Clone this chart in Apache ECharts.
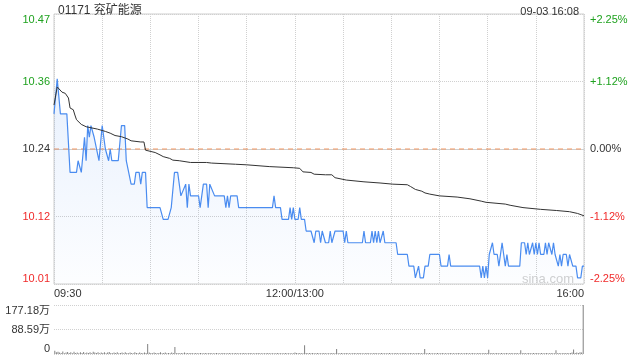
<!DOCTYPE html>
<html>
<head>
<meta charset="utf-8">
<script src="https://cdn.jsdelivr.net/npm/echarts@6/dist/echarts.min.js"></script>
<style>
html,body{margin:0;padding:0;background:#fff;}
#chart{width:640px;height:360px;}
</style>
</head>
<body>
<div id="chart"></div>
<script>
// ---- data ----
const titleText = '01171 兖矿能源';
const dateText = '09-03 16:08';
const prevClose = 10.24;
const sessionEnd = 330;
const xTickLabels = { 0: '09:30', 150: '12:00/13:00', 330: '16:00' };
const priceLabels = ['10.01', '10.12', '10.24', '10.36', '10.47'];
const pctLabels = ['-2.25%', '-1.12%', '0.00%', '+1.12%', '+2.25%'];
const volLabels = ['0', '88.59万', '177.18万'];

// minutes since 09:30 (lunch break removed) and price
const priceMin = [0,2,4,8,10,14,15,17,19,20,21,22,23,25,28,30,32,34,35,36,40,42,44,45,46,48,50,51,53,54,55,57,58,66,68,71,73,75,77,79,80,82,83,84,85,90,91,92,93,95,96,97,98,100,106,107,108,109,110,114,115,136,137,138,141,142,146,147,148,149,150,152,153,154,156,157,160,162,163,165,166,167,168,169,171,172,173,174,175,180,181,182,183,192,193,194,197,198,199,200,201,202,203,204,205,206,213,214,220,221,224,225,226,227,228,230,231,233,234,240,241,245,246,247,265,266,267,268,269,270,271,272,273,274,276,277,279,280,281,282,283,290,291,293,294,295,296,297,298,299,300,301,302,303,305,306,307,308,309,310,311,312,313,314,315,316,317,319,320,321,322,323,325,326,328,329,330];
const priceVal = [10.30,10.36,10.30,10.30,10.20,10.20,10.22,10.20,10.26,10.22,10.28,10.26,10.28,10.26,10.22,10.28,10.24,10.22,10.24,10.22,10.22,10.28,10.28,10.22,10.22,10.18,10.18,10.20,10.20,10.18,10.20,10.20,10.14,10.14,10.12,10.12,10.14,10.20,10.20,10.16,10.16,10.18,10.14,10.18,10.16,10.16,10.14,10.14,10.18,10.18,10.14,10.18,10.18,10.16,10.16,10.14,10.16,10.14,10.16,10.16,10.14,10.14,10.16,10.14,10.14,10.12,10.12,10.14,10.12,10.14,10.12,10.12,10.14,10.12,10.12,10.10,10.10,10.08,10.10,10.10,10.08,10.10,10.10,10.08,10.08,10.10,10.08,10.08,10.10,10.10,10.08,10.10,10.08,10.08,10.10,10.08,10.08,10.10,10.08,10.10,10.08,10.10,10.08,10.08,10.10,10.08,10.08,10.06,10.06,10.04,10.04,10.02,10.02,10.04,10.02,10.02,10.04,10.04,10.06,10.06,10.04,10.04,10.06,10.04,10.04,10.02,10.04,10.02,10.04,10.02,10.06,10.06,10.08,10.06,10.06,10.04,10.08,10.06,10.04,10.06,10.04,10.04,10.08,10.08,10.06,10.08,10.06,10.06,10.08,10.06,10.08,10.06,10.08,10.06,10.06,10.08,10.06,10.08,10.08,10.06,10.08,10.06,10.06,10.04,10.06,10.04,10.06,10.06,10.04,10.06,10.06,10.04,10.04,10.02,10.02,10.04,10.04];

// average price line
const avgMin = [0,2,5,7,9,10,12,13,14,17,20,27,32,35,38,42,46,48,54,56,57,58,63,66,68,72,74,78,85,95,98,113,120,134,149,153,155,160,162,169,173,175,182,193,203,211,220,222,225,229,231,234,240,251,259,266,269,281,284,292,303,313,321,326,330];
const avgVal = [10.315,10.346,10.337,10.335,10.327,10.310,10.307,10.298,10.290,10.282,10.278,10.274,10.270,10.267,10.263,10.261,10.257,10.254,10.252,10.252,10.238,10.235,10.234,10.230,10.227,10.224,10.221,10.220,10.217,10.217,10.216,10.214,10.213,10.210,10.208,10.207,10.201,10.200,10.197,10.196,10.196,10.191,10.187,10.184,10.182,10.180,10.179,10.176,10.171,10.168,10.165,10.163,10.160,10.158,10.155,10.151,10.149,10.146,10.144,10.140,10.137,10.135,10.133,10.130,10.126];

// per-minute volume (万)
const volume = [
12,6,8,5,4,9,3,5,7,4, 6,3,8,4,5,3,6,4,7,3, 5,4,6,3,8,5,4,6,3,5,
4,6,3,5,7,4,3,5,4,6, 3,4,5,3,6,4,3,5,4,3, 6,4,3,5,4,3,5,4,36,5,
4,3,5,4,3,4,6,3,4,5, 3,4,3,5,4,25,3,4,3,4, 3,5,3,4,3,4,3,3,4,3,
3,4,3,3,4,3,3,4,3,3, 3,4,3,3,3,4,3,3,3,4, 3,3,3,4,3,3,3,3,4,3,
3,3,4,3,3,3,3,4,3,3, 3,3,3,4,3,3,3,3,3,4, 3,3,3,3,4,3,3,3,3,3,
5,4,3,4,3,3,32,4,3,4, 3,4,3,3,4,3,3,3,4,3, 3,3,3,4,3,3,18,3,3,4,
3,3,4,3,3,3,3,4,3,3, 4,3,3,3,3,4,3,3,3,3, 4,3,3,3,4,3,3,3,3,4,
3,3,3,4,3,3,3,3,4,3, 3,3,4,3,3,3,3,4,3,3, 3,18,3,3,4,3,3,3,3,4,
3,3,4,3,3,3,3,4,3,3, 3,3,4,3,3,3,3,4,3,3, 3,4,3,3,3,4,3,3,4,3,
4,15,3,4,3,3,4,3,3,4, 3,3,4,3,3,4,3,3,4,3, 3,14,3,4,3,3,4,3,3,4,
3,4,3,3,4,3,3,4,3,3, 4,3,3,14,3,4,3,3,4,3, 4,3,4,5,16,4,5,4,6,5,177.18
];

// ---- build ----
const toPct = p => (p / prevClose - 1) * 100;
const priceSeries = priceMin.map((m, i) => [m, toPct(priceVal[i])]);
const avgSeries = avgMin.map((m, i) => [m, toPct(avgVal[i])]);
const prevCloseSeries = [[0, toPct(prevClose)], [sessionEnd, toPct(prevClose)]];
const volSeries = volume.map((v, i) => [i, v]);

const GREEN = '#1fa21f', RED = '#f02a2a', DARK = '#333';
const FONT = '"Liberation Sans", Arial, "Noto Sans CJK SC", sans-serif';
const idxOf = v => Math.round((Number(v) + 2.25) / 1.125);
const colorOf = v => { const i = idxOf(v); return i > 2 ? GREEN : (i < 2 ? RED : DARK); };

const chart = echarts.init(document.getElementById('chart'), null, { renderer: 'canvas' });
chart.setOption({
  animation: false,
  backgroundColor: '#fff',
  textStyle: { fontFamily: FONT },
  title: [
    { text: titleText, left: 53, top: 0, textStyle: { fontSize: 12, fontWeight: 'normal', color: '#333', fontFamily: FONT } },
    { text: dateText, right: 56, top: 1, textStyle: { fontSize: 11, fontWeight: 'normal', color: '#333', fontFamily: FONT } }
  ],
  graphic: [
    { type: 'text', right: 66, top: 273, style: { text: 'sina.com', fill: '#d0d0d0', font: '13px ' + FONT } }
  ],
  grid: [
    { left: 54, right: 56, top: 14, bottom: 76, show: true, borderColor: '#cfcfcf', borderWidth: 1, backgroundColor: 'transparent' },
    { left: 54, right: 56, top: 305, bottom: 6 }
  ],
  xAxis: [
    {
      type: 'value', gridIndex: 0, min: 0, max: 330, interval: 30,
      axisLine: { show: true, lineStyle: { color: '#cfcfcf' } }, axisTick: { show: false },
      splitLine: { show: true, lineStyle: { color: '#d0d0d0', type: 'dotted', width: 1 } },
      axisLabel: {
        show: true, margin: 4, fontSize: 11, color: '#333', fontFamily: FONT,
        showMinLabel: true, showMaxLabel: true,
        alignMinLabel: 'left', alignMaxLabel: 'right',
        formatter: v => xTickLabels[v] || ''
      }
    },
    {
      type: 'value', gridIndex: 1, min: -0.5, max: 330.5,
      axisLine: { show: false }, axisTick: { show: false }, axisLabel: { show: false }, splitLine: { show: false }
    }
  ],
  yAxis: [
    {
      type: 'value', gridIndex: 0, min: -2.25, max: 2.25, interval: 1.125, position: 'left',
      axisLine: { show: false }, axisTick: { show: false },
      splitLine: { show: true, lineStyle: { color: '#d0d0d0', type: 'dotted', width: 1 } },
      axisLabel: {
        margin: 4, fontSize: 11, fontFamily: FONT,
        verticalAlignMaxLabel: 'top', verticalAlignMinLabel: 'bottom',
        color: v => colorOf(v),
        formatter: v => priceLabels[idxOf(v)]
      }
    },
    {
      type: 'value', gridIndex: 0, min: -2.25, max: 2.25, interval: 1.125, position: 'right',
      axisLine: { show: false }, axisTick: { show: false }, splitLine: { show: false },
      axisLabel: {
        margin: 6, fontSize: 11, fontFamily: FONT,
        verticalAlignMaxLabel: 'top', verticalAlignMinLabel: 'bottom',
        color: v => colorOf(v),
        formatter: v => pctLabels[idxOf(v)]
      }
    },
    {
      type: 'value', gridIndex: 1, min: 0, max: 177.18, interval: 88.59,
      axisLine: { show: false }, axisTick: { show: false },
      splitLine: { show: true, lineStyle: { color: '#d0d0d0', type: 'dotted', width: 1 } },
      axisLabel: {
        margin: 4, fontSize: 11, color: '#333', fontFamily: FONT,
        verticalAlignMaxLabel: 'top', verticalAlignMinLabel: 'bottom',
        formatter: v => volLabels[Math.round(v / 88.59)]
      }
    }
  ],
  series: [
    {
      type: 'line', xAxisIndex: 0, yAxisIndex: 0, data: prevCloseSeries, symbol: 'none',
      lineStyle: { color: '#f29660', type: [5, 4], width: 1 }, z: 2, silent: true
    },
    {
      type: 'line', xAxisIndex: 0, yAxisIndex: 0, data: priceSeries, symbol: 'none',
      lineStyle: { color: '#4a8cf0', width: 1.2 },
      areaStyle: {
        origin: 'start',
        color: new echarts.graphic.LinearGradient(0, 0, 0, 1, [
          { offset: 0, color: 'rgba(74,140,240,0.18)' },
          { offset: 1, color: 'rgba(74,140,240,0.02)' }
        ])
      },
      z: 3
    },
    {
      type: 'line', xAxisIndex: 0, yAxisIndex: 0, data: avgSeries, symbol: 'none',
      lineStyle: { color: '#333', width: 1 }, z: 4
    },
    {
      type: 'bar', xAxisIndex: 1, yAxisIndex: 2, data: volSeries, barWidth: 1,
      itemStyle: { color: '#808080' }
    }
  ]
});
</script>
</body>
</html>
